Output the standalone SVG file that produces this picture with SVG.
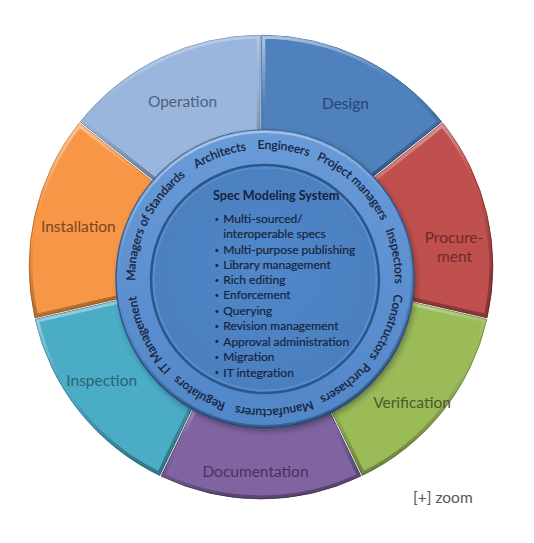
<svg xmlns="http://www.w3.org/2000/svg" xmlns:xlink="http://www.w3.org/1999/xlink" width="534" height="543" viewBox="0 0 534 543">
<style>
.bev{fill:none;stroke:url(#bev);stroke-width:7}
.lbl{font-family:Lato,"Liberation Sans",sans-serif;font-size:15.5px;text-anchor:middle}
.ring{font-family:Lato,"Liberation Sans",sans-serif;font-size:12px;fill:#14203a;stroke:#14203a;stroke-width:0.25;text-anchor:middle}
.lst{font-family:Lato,"Liberation Sans",sans-serif;font-size:12px;fill:#17243d;stroke:#17243d;stroke-width:0.2}
.ttl{font-family:Lato,"Liberation Sans",sans-serif;font-size:12.6px;font-weight:bold;fill:#17243d}
.bul{font-family:Lato,"Liberation Sans",sans-serif;font-size:8px;fill:#17243d}
</style>
<defs>
<linearGradient id="bev" x1="0" y1="0" x2="0.25" y2="1">
<stop offset="0" stop-color="#fff" stop-opacity="0.55"/>
<stop offset="0.45" stop-color="#fff" stop-opacity="0"/>
<stop offset="0.55" stop-color="#000" stop-opacity="0"/>
<stop offset="1" stop-color="#000" stop-opacity="0.3"/>
</linearGradient>
<linearGradient id="ringG" x1="0" y1="0" x2="0" y2="1">
<stop offset="0" stop-color="#6a9bd9"/>
<stop offset="1" stop-color="#5186c7"/>
</linearGradient>
<radialGradient id="discG" cx="0.5" cy="0.45" r="0.55">
<stop offset="0" stop-color="#5088c9"/>
<stop offset="1" stop-color="#4a7ebf"/>
</radialGradient>
<filter id="blur" x="-20%" y="-20%" width="140%" height="140%"><feGaussianBlur stdDeviation="3"/></filter>
<path id="pDesign" d="M261,37 A230,230 0 0 1 440.82,123.6 L362.64,185.95 A130,130 0 0 0 261,137 Z"/>
<path id="pProc" d="M440.82,123.6 A230,230 0 0 1 485.23,318.18 L387.74,295.93 A130,130 0 0 0 362.64,185.95 Z"/>
<path id="pVer" d="M485.23,318.18 A230,230 0 0 1 360.79,474.22 L317.4,384.13 A130,130 0 0 0 387.74,295.93 Z"/>
<path id="pDoc" d="M360.79,474.22 A230,230 0 0 1 161.21,474.22 L204.6,384.13 A130,130 0 0 0 317.4,384.13 Z"/>
<path id="pInsp" d="M161.21,474.22 A230,230 0 0 1 36.77,318.18 L134.26,295.93 A130,130 0 0 0 204.6,384.13 Z"/>
<path id="pInst" d="M36.77,318.18 A230,230 0 0 1 81.18,123.6 L159.36,185.95 A130,130 0 0 0 134.26,295.93 Z"/>
<path id="pOper" d="M81.18,123.6 A230,230 0 0 1 261,37 L261,137 A130,130 0 0 0 159.36,185.95 Z"/>
<clipPath id="cDesign"><use xlink:href="#pDesign"/></clipPath>
<clipPath id="cProc"><use xlink:href="#pProc"/></clipPath>
<clipPath id="cVer"><use xlink:href="#pVer"/></clipPath>
<clipPath id="cDoc"><use xlink:href="#pDoc"/></clipPath>
<clipPath id="cInsp"><use xlink:href="#pInsp"/></clipPath>
<clipPath id="cInst"><use xlink:href="#pInst"/></clipPath>
<clipPath id="cOper"><use xlink:href="#pOper"/></clipPath>
<clipPath id="cRing"><circle cx="265" cy="279" r="149"/></clipPath>
<path id="ringPath" d="M395,279 A130,130 0 1 1 135,279 A130,130 0 1 1 395,279 A130,130 0 1 1 135,279 A130,130 0 1 1 395,279"/>
</defs>
<rect width="534" height="543" fill="#fff"/>

<g id="operation">
<g transform="translate(-0.8,-1.7)">
<use xlink:href="#pOper" fill="#9bb6dd" stroke="#7190bb"/>
<use xlink:href="#pOper" class="bev" clip-path="url(#cOper)"/>
</g>
<text class="lbl" x="182.5" y="107" fill="#4f607c">Operation</text>
</g>

<g id="design">
<g transform="translate(0.8,-1.7)">
<use xlink:href="#pDesign" fill="#4f81bd" stroke="#355f91"/>
<use xlink:href="#pDesign" class="bev" clip-path="url(#cDesign)"/>
</g>
<text class="lbl" x="345.5" y="109" fill="#284670">Design</text>
</g>

<g id="procurement">
<g transform="translate(1.85,-0.42)">
<use xlink:href="#pProc" fill="#c0504d" stroke="#8f3532"/>
<use xlink:href="#pProc" class="bev" clip-path="url(#cProc)"/>
</g>
<text class="lbl" x="454" y="243" fill="#6e2a28">Procure-</text>
<text class="lbl" x="454.5" y="262" fill="#6e2a28">ment</text>
</g>

<g id="verification">
<g transform="translate(1.5,1.2)">
<use xlink:href="#pVer" fill="#9bbb59" stroke="#71893d"/>
<use xlink:href="#pVer" class="bev" clip-path="url(#cVer)"/>
</g>
<text class="lbl" x="412" y="408" fill="#4a5a28">Verification</text>
</g>

<g id="documentation">
<g transform="translate(0,1.9)">
<use xlink:href="#pDoc" fill="#8064a2" stroke="#5c4779"/>
<use xlink:href="#pDoc" class="bev" clip-path="url(#cDoc)"/>
</g>
<text class="lbl" x="255.5" y="477" fill="#47325f">Documentation</text>
</g>

<g id="inspection">
<g transform="translate(-1.5,1.2)">
<use xlink:href="#pInsp" fill="#4bacc6" stroke="#327f94"/>
<use xlink:href="#pInsp" class="bev" clip-path="url(#cInsp)"/>
</g>
<text class="lbl" x="101.7" y="386" fill="#2a6274">Inspection</text>
</g>

<g id="installation">
<g transform="translate(-1.85,-0.42)">
<use xlink:href="#pInst" fill="#f79646" stroke="#bf6f2c"/>
<use xlink:href="#pInst" class="bev" clip-path="url(#cInst)"/>
</g>
<text class="lbl" x="78.3" y="232" fill="#7a4620">Installation</text>
</g>

<g id="ring">
<circle cx="267" cy="282" r="149" fill="#000" opacity="0.35" filter="url(#blur)"/>
<circle cx="265" cy="279" r="149" fill="url(#ringG)" stroke="#2d5b91" stroke-width="1.5"/>
<circle cx="265" cy="279" r="149" fill="none" stroke="url(#bev)" stroke-width="6" clip-path="url(#cRing)"/>
<text class="ring"><textPath xlink:href="#ringPath" startOffset="631">Engineers</textPath></text>
<text class="ring"><textPath xlink:href="#ringPath" startOffset="567">Architects</textPath></text>
<text class="ring"><textPath xlink:href="#ringPath" startOffset="467">Managers of Standards</textPath></text>
<text class="ring"><textPath xlink:href="#ringPath" startOffset="711">Project managers</textPath></text>
<text class="ring"><textPath xlink:href="#ringPath" startOffset="794">Inspectors</textPath></text>
<text class="ring"><textPath xlink:href="#ringPath" startOffset="866">Constructors</textPath></text>
<text class="ring"><textPath xlink:href="#ringPath" startOffset="119">Purchasers</textPath></text>
<text class="ring"><textPath xlink:href="#ringPath" startOffset="195">Manufacturers</textPath></text>
<text class="ring"><textPath xlink:href="#ringPath" startOffset="272">Regulators</textPath></text>
<text class="ring"><textPath xlink:href="#ringPath" startOffset="350">IT Management</textPath></text>
</g>

<g id="core">
<circle cx="265" cy="279" r="114" fill="url(#discG)" stroke="#2b568b" stroke-width="2.5"/>
<circle cx="265" cy="279" r="111.5" fill="none" stroke="#7aa6df" stroke-opacity="0.35" stroke-width="2"/>
<text class="ttl" x="213" y="200">Spec Modeling System</text>
<text x="214.5" y="222" class="bul">•</text><text x="223.3" y="223.3" class="lst">Multi-sourced/</text>
<text x="223.3" y="238.3" class="lst">interoperable specs</text>
<text x="214.5" y="252.7" class="bul">•</text><text x="223.3" y="254" class="lst">Multi-purpose publishing</text>
<text x="214.5" y="268" class="bul">•</text><text x="223.3" y="269.3" class="lst">Library management</text>
<text x="214.5" y="283" class="bul">•</text><text x="223.3" y="284.3" class="lst">Rich editing</text>
<text x="214.5" y="298" class="bul">•</text><text x="223.3" y="299.3" class="lst">Enforcement</text>
<text x="214.5" y="313.7" class="bul">•</text><text x="223.3" y="315" class="lst">Querying</text>
<text x="214.5" y="328.7" class="bul">•</text><text x="223.3" y="330" class="lst">Revision management</text>
<text x="214.5" y="344.4" class="bul">•</text><text x="223.3" y="345.7" class="lst">Approval administration</text>
<text x="214.5" y="359.7" class="bul">•</text><text x="223.3" y="361" class="lst">Migration</text>
<text x="214.5" y="375.4" class="bul">•</text><text x="223.3" y="376.7" class="lst">IT integration</text>
</g>

<text id="zoom" x="413" y="503" font-family="Lato,'Liberation Sans',sans-serif" font-size="15.5" fill="#555">[+] zoom</text>
</svg>
